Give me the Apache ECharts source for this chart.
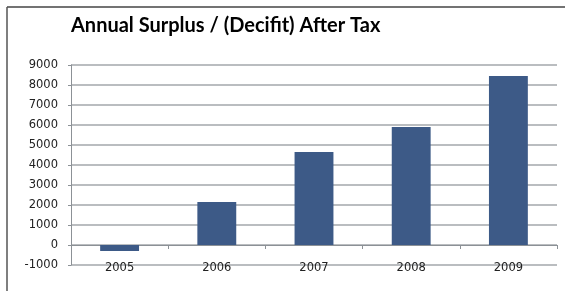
<!DOCTYPE html>
<html>
<head>
<meta charset="utf-8">
<script src="https://cdn.jsdelivr.net/npm/echarts@6/dist/echarts.min.js"></script>
<style>
  html, body { margin: 0; padding: 0; background: #fff; }
  #chart { width: 565px; height: 291px; }
</style>
</head>
<body>
<div id="chart"></div>
<script>
const years = ['2005', '2006', '2007', '2008', '2009']
const surplus = [-300, 2150, 4650, 5900, 8450]
const yMin = -1000
const yMax = 9000
const yStep = 1000

const chart = echarts.init(document.getElementById('chart'))

chart.setOption({
  animation: false,
  title: {
    text: 'Annual Surplus / (Decifit) After Tax',
    left: 66,
    top: 11,
    textStyle: { fontFamily: 'Lato', fontWeight: 'bold', fontSize: 20, color: '#000' }
  },
  // frame lines along top and left, as in the original image
  graphic: [
    { type: 'line', shape: { x1: 7, y1: 7, x2: 565, y2: 7 }, style: { stroke: '#444', lineWidth: 1.5 } },
    { type: 'line', shape: { x1: 7, y1: 7, x2: 7, y2: 291 }, style: { stroke: '#555', lineWidth: 1.5 } }
  ],
  grid: { left: 71, right: 8, top: 65, bottom: 26 },
  xAxis: [
    {
      type: 'category',
      data: years,
      position: 'bottom',
      axisLine: { show: false, onZero: false },
      axisTick: { show: false },
      axisLabel: { fontFamily: 'DejaVu Sans', fontSize: 11.5, color: '#222', margin: -3 }
    },
    {
      type: 'category',
      data: years,
      position: 'bottom',
      axisLine: { onZero: true, lineStyle: { color: '#8c9196', width: 1 } },
      axisTick: { show: true, length: 4, lineStyle: { color: '#8c9196' } },
      axisLabel: { show: false }
    }
  ],
  yAxis: {
    type: 'value',
    min: yMin,
    max: yMax,
    interval: yStep,
    axisLine: { show: true, lineStyle: { color: '#8c9196' } },
    axisTick: { show: true, length: 3, lineStyle: { color: '#8c9196' } },
    axisLabel: {
      fontFamily: 'DejaVu Sans', fontSize: 11.5, color: '#222', margin: 13,
      formatter: v => String(v)
    },
    splitLine: { lineStyle: { color: '#a3a7ab', width: 1.5 } }
  },
  series: [{
    type: 'bar',
    xAxisIndex: 1,
    data: surplus,
    barWidth: '40%',
    itemStyle: { color: '#3d5a87' }
  }]
})
</script>
</body>
</html>
